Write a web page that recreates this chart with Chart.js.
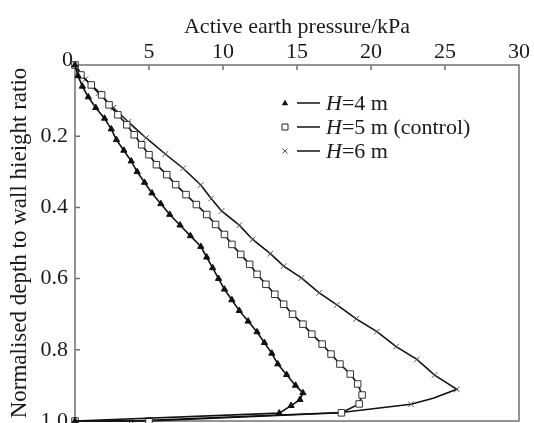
<!DOCTYPE html>
<html>
<head>
<meta charset="utf-8">
<script src="https://cdn.jsdelivr.net/npm/chart.js@4.4.1/dist/chart.umd.min.js"></script>
<style>
  html, body { margin: 0; padding: 0; background: #fff; }
  #wrap { width: 534px; height: 423px; }
</style>
</head>
<body>
<div id="wrap"><canvas id="myChart"></canvas></div>
<script>
// values (depth ratio -> pressure in kPa)
const depthH4 = [0, 0.03, 0.06, 0.09, 0.12, 0.15, 0.18, 0.21, 0.24, 0.27, 0.30, 0.33, 0.36, 0.39, 0.42, 0.45, 0.48, 0.51, 0.54, 0.57, 0.60, 0.63, 0.66, 0.69, 0.72, 0.75, 0.78, 0.81, 0.84, 0.87, 0.90, 0.921, 0.94, 0.957, 0.978, 1.0];
const pressureH4 = [0, 0.2, 0.5, 0.9, 1.4, 2.0, 2.45, 2.8, 3.3, 3.8, 4.2, 4.7, 5.2, 5.8, 6.4, 7.1, 7.8, 8.5, 8.9, 9.3, 9.7, 10.1, 10.6, 11.1, 11.7, 12.3, 12.8, 13.3, 13.7, 14.3, 14.9, 15.4, 15.2, 14.6, 13.8, 0];

const depthH5 = [0, 0.028, 0.056, 0.084, 0.112, 0.14, 0.168, 0.196, 0.224, 0.252, 0.28, 0.308, 0.336, 0.364, 0.392, 0.42, 0.448, 0.476, 0.504, 0.532, 0.56, 0.588, 0.616, 0.644, 0.672, 0.70, 0.728, 0.756, 0.784, 0.812, 0.84, 0.868, 0.896, 0.927, 0.952, 0.977, 1.0, 1.0];
const pressureH5 = [0, 0.4, 1.1, 1.8, 2.3, 2.9, 3.5, 4.0, 4.5, 5.0, 5.5, 6.2, 6.8, 7.5, 8.2, 8.9, 9.5, 10.1, 10.6, 11.2, 11.8, 12.3, 12.9, 13.5, 14.1, 14.7, 15.4, 16.0, 16.7, 17.3, 17.9, 18.6, 19.1, 19.4, 19.2, 18.0, 5.0, 0];

const depthH6 = [0, 0.04, 0.079, 0.12, 0.16, 0.205, 0.25, 0.29, 0.337, 0.375, 0.41, 0.45, 0.49, 0.53, 0.565, 0.598, 0.64, 0.674, 0.713, 0.749, 0.791, 0.827, 0.871, 0.911, 0.936, 0.953, 0.976, 1.0, 1.0];
const pressureH6 = [0, 0.7, 1.6, 2.6, 3.6, 4.8, 6.1, 7.3, 8.5, 9.2, 9.9, 11.1, 12.0, 13.2, 14.1, 15.3, 16.5, 17.7, 19.0, 20.4, 21.7, 23.1, 24.3, 25.8, 24.2, 22.7, 18.0, 3.8, 0];
const markedH6 = [1, 1, 1, 1, 1, 1, 1, 1, 1, 1, 1, 1, 1, 1, 1, 1, 1, 1, 1, 1, 1, 1, 1, 1, 0, 1, 0, 1, 1];

const seriesLabels = ['=4 m', '=5 m (control)', '=6 m'];
const xTicks = [0, 5, 10, 15, 20, 25, 30];
const yTicks = [0, 0.2, 0.4, 0.6, 0.8, 1.0];

const toPoints = (xs, ys) => xs.map((x, i) => ({ x: x, y: ys[i] }));
const serif = 'Liberation Serif, Times New Roman, serif';

// frame, inward ticks, shared origin label and the legend box
const framePlugin = {
    id: 'frame',
    beforeDatasetsDraw(chart) {
        const { ctx, chartArea: a, scales } = chart;
        ctx.save();
        ctx.strokeStyle = '#707070';
        ctx.lineWidth = 1.5;
        ctx.strokeRect(a.left, a.top, a.right - a.left, a.bottom - a.top);
        ctx.beginPath();
        xTicks.slice(1, -1).forEach(v => {
            const px = scales.x.getPixelForValue(v);
            ctx.moveTo(px, a.top);
            ctx.lineTo(px, a.top + 5);
        });
        yTicks.slice(1, -1).forEach(v => {
            const py = scales.y.getPixelForValue(v);
            ctx.moveTo(a.left, py);
            ctx.lineTo(a.left + 5, py);
        });
        ctx.stroke();
        ctx.fillStyle = '#1a1a1a';
        ctx.font = '22px ' + serif;
        ctx.textAlign = 'right';
        ctx.textBaseline = 'alphabetic';
        ctx.fillText('0', a.left - 2, a.top + 0.5);
        ctx.restore();
    },
    afterDraw(chart) {
        const ctx = chart.ctx;
        const rows = [103, 127, 151];
        ctx.save();
        rows.forEach((y, i) => {
            const mx = 285;
            ctx.lineWidth = 1;
            ctx.strokeStyle = '#222';
            ctx.fillStyle = '#111';
            ctx.beginPath();
            if (i === 0) {
                ctx.moveTo(mx, y - 3.5);
                ctx.lineTo(mx + 3.2, y + 2.2);
                ctx.lineTo(mx - 3.2, y + 2.2);
                ctx.closePath();
                ctx.fill();
            } else if (i === 1) {
                ctx.fillStyle = '#fff';
                ctx.rect(mx - 3, y - 3, 6, 6);
                ctx.fill();
                ctx.stroke();
            } else {
                ctx.strokeStyle = '#555';
                ctx.moveTo(mx - 2.5, y - 2.5); ctx.lineTo(mx + 2.5, y + 2.5);
                ctx.moveTo(mx + 2.5, y - 2.5); ctx.lineTo(mx - 2.5, y + 2.5);
                ctx.stroke();
            }
            ctx.beginPath();
            ctx.strokeStyle = '#111';
            ctx.lineWidth = 1.5;
            ctx.moveTo(297, y);
            ctx.lineTo(320, y);
            ctx.stroke();
            ctx.fillStyle = '#1a1a1a';
            ctx.textBaseline = 'middle';
            ctx.font = 'italic 22px ' + serif;
            ctx.fillText('H', 326, y + 1);
            const w = ctx.measureText('H').width;
            ctx.font = '22px ' + serif;
            ctx.fillText(seriesLabels[i], 326 + w, y + 1);
        });
        ctx.restore();
    }
};

const ctx = document.getElementById('myChart').getContext('2d');
const myChart = new Chart(ctx, {
    type: 'scatter',
    data: {
        datasets: [{
            label: 'H' + seriesLabels[0],
            data: toPoints(pressureH4, depthH4),
            showLine: true,
            borderColor: '#111',
            borderWidth: 1.6,
            pointStyle: 'triangle',
            pointRadius: 3.6,
            pointBackgroundColor: '#111',
            pointBorderColor: '#111',
            pointBorderWidth: 1,
            clip: 10
        }, {
            label: 'H' + seriesLabels[1],
            data: toPoints(pressureH5, depthH5),
            showLine: true,
            borderColor: '#111',
            borderWidth: 1.6,
            pointStyle: 'rect',
            pointRadius: 4.6,
            pointBackgroundColor: '#fff',
            pointBorderColor: '#333',
            pointBorderWidth: 1,
            clip: 10
        }, {
            label: 'H' + seriesLabels[2],
            data: toPoints(pressureH6, depthH6),
            showLine: true,
            borderColor: '#111',
            borderWidth: 1.6,
            pointStyle: 'crossRot',
            pointRadius: markedH6.map(m => m ? 4 : 0),
            pointBorderColor: '#555',
            pointBorderWidth: 1,
            clip: 10
        }]
    },
    options: {
        responsive: true,
        maintainAspectRatio: false,
        animation: false,
        layout: { autoPadding: false, padding: { left: 0, right: 15, top: 0, bottom: 2 } },
        plugins: { legend: { display: false }, tooltip: { enabled: false } },
        elements: { line: { tension: 0 } },
        scales: {
            x: {
                type: 'linear',
                position: 'top',
                min: 0,
                max: 30,
                afterBuildTicks: s => { s.ticks = xTicks.map(v => ({ value: v })); },
                afterFit: s => { s.height = 65; s.paddingLeft = 0; s.paddingRight = 0; },
                grid: { display: false, drawTicks: false },
                border: { display: false },
                ticks: {
                    color: '#1a1a1a',
                    font: { family: serif, size: 22 },
                    padding: 0,
                    maxRotation: 0,
                    callback: v => v === 0 ? '' : String(v)
                },
                title: {
                    display: true,
                    text: 'Active earth pressure/kPa',
                    color: '#1a1a1a',
                    font: { family: serif, size: 22 },
                    padding: { top: 14, bottom: 0 }
                }
            },
            y: {
                type: 'linear',
                reverse: true,
                min: 0,
                max: 1.0,
                afterBuildTicks: s => { s.ticks = yTicks.map(v => ({ value: v })); },
                afterFit: s => { s.width = 75; s.paddingTop = 0; s.paddingBottom = 0; },
                grid: { display: false, drawTicks: false },
                border: { display: false },
                ticks: {
                    color: '#1a1a1a',
                    font: { family: serif, size: 22 },
                    padding: 7,
                    callback: v => v === 0 ? '' : v.toFixed(1)
                },
                title: {
                    display: true,
                    text: 'Normalised depth to wall hieight ratio',
                    color: '#1a1a1a',
                    font: { family: serif, size: 23 },
                    padding: { top: 6, bottom: 0 }
                }
            }
        }
    },
    plugins: [framePlugin]
});
</script>
</body>
</html>
